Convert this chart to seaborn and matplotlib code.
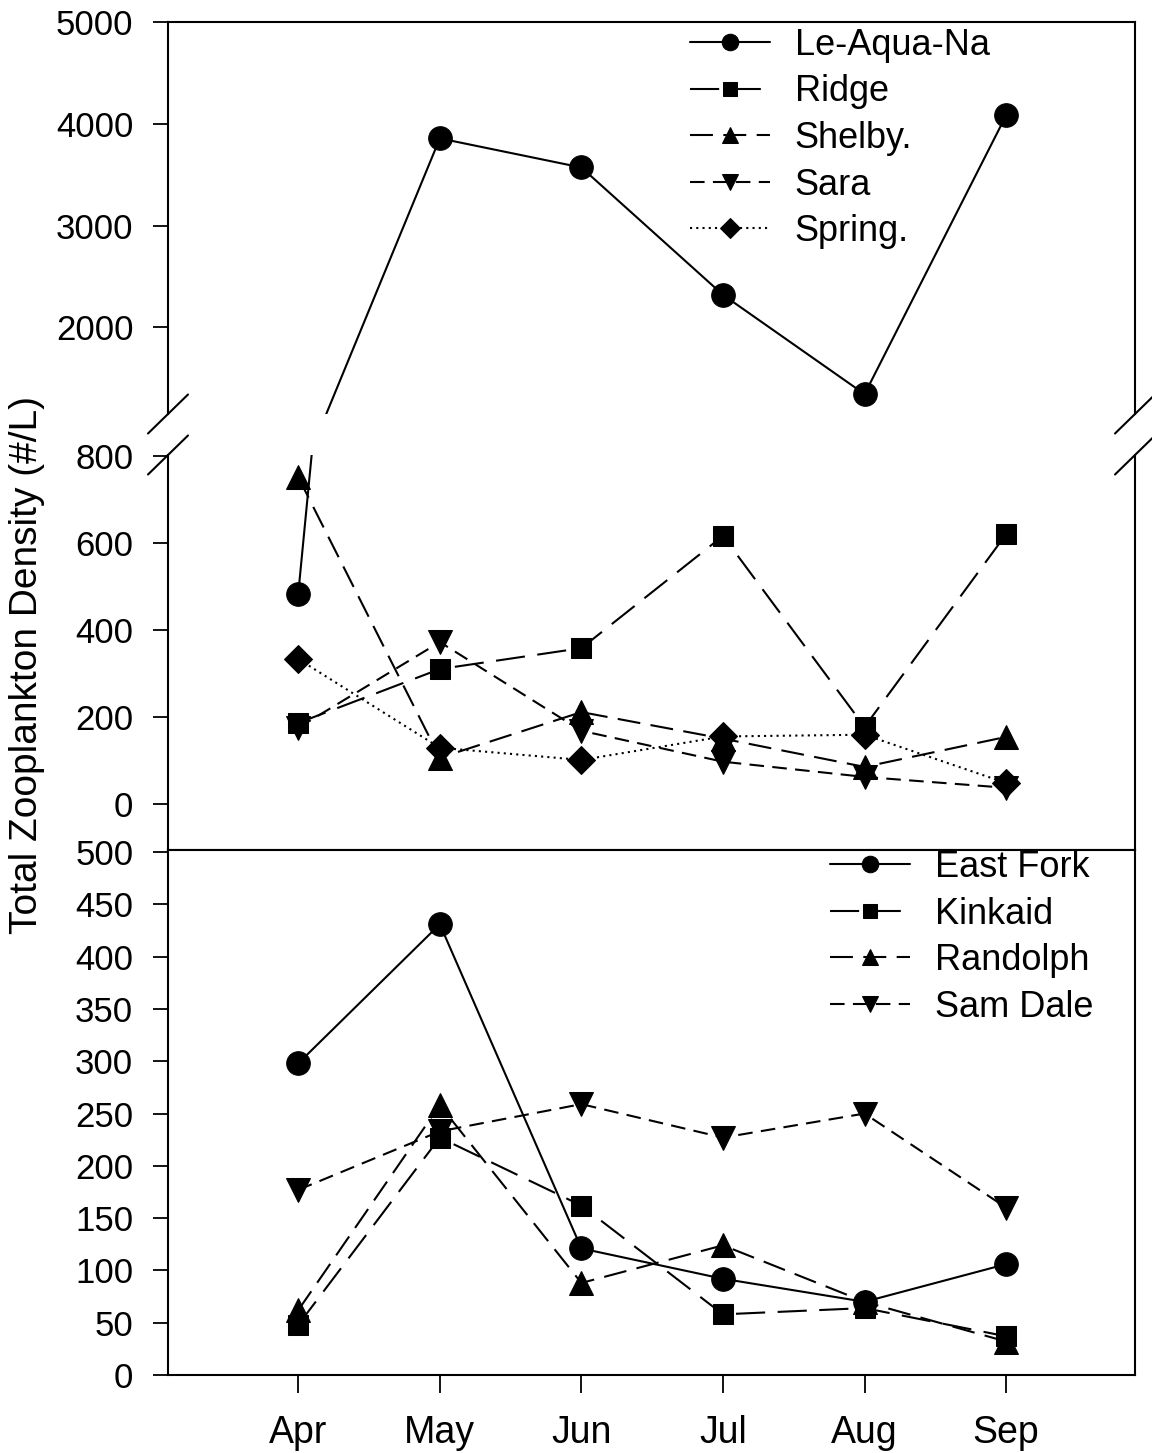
import numpy as np
import matplotlib
matplotlib.use("Agg")
import matplotlib.pyplot as plt
from matplotlib.lines import Line2D
import seaborn as sns

# ---- data -------------------------------------------------------------
months = ["Apr", "May", "Jun", "Jul", "Aug", "Sep"]

# upper panel lakes (broken y axis)
le_aqua_na = [483, 3857, 3571, 2320, 1345, 4084]
ridge = [186, 310, 358, 616, 177, 620]
shelby = [751, 106, 211, 150, 85, 154]
sara = [175, 372, 168, 97, 62, 37]
spring = [333, 129, 101, 155, 159, 48]

# lower panel lakes
east_fork = [298, 431, 121, 92, 70, 106]
kinkaid = [48, 227, 162, 58, 64, 37]
randolph = [62, 258, 88, 124, 70, 32]
sam_dale = [177, 233, 259, 227, 250, 160]

top_ticks = [2000, 3000, 4000, 5000]
mid_ticks = [0, 200, 400, 600, 800]
bot_ticks = list(range(0, 501, 50))

# ---- style ------------------------------------------------------------
sns.set_theme(style="ticks")
plt.rcParams["font.family"] = ["Liberation Sans", "DejaVu Sans"]
plt.rcParams["axes.linewidth"] = 1.5
plt.rcParams["axes.edgecolor"] = "black"
plt.rcParams["text.color"] = "black"
plt.rcParams["axes.labelcolor"] = "black"
plt.rcParams["xtick.color"] = "black"
plt.rcParams["ytick.color"] = "black"

LONG = (0, (14, 6))
MED = (0, (11, 5))
SHORT = (0, (7, 4))
DOT = (0, (1, 2))

upper = [
    ("Le-Aqua-Na", le_aqua_na, "o", 17, "-"),
    ("Ridge", ridge, "s", 15, LONG),
    ("Shelby.", shelby, "^", 17, MED),
    ("Sara", sara, "v", 17, SHORT),
    ("Spring.", spring, "D", 14, DOT),
]
lower = [
    ("East Fork", east_fork, "o", 17, "-"),
    ("Kinkaid", kinkaid, "s", 15, LONG),
    ("Randolph", randolph, "^", 17, MED),
    ("Sam Dale", sam_dale, "v", 17, SHORT),
]

W, H = 1152, 1453
fig = plt.figure(figsize=(W / 100, H / 100), dpi=100)


def box(x0, y0, x1, y1):
    return [x0 / W, 1 - y1 / H, (x1 - x0) / W, (y1 - y0) / H]


ax_top = fig.add_axes(box(168, 22, 1135, 414))
ax_mid = fig.add_axes(box(168, 455, 1135, 850))
ax_bot = fig.add_axes(box(168, 850, 1135, 1375))

x = np.arange(len(months))


def draw(ax, series, with_labels):
    for name, vals, mk, ms, ls in series:
        sns.lineplot(
            x=x, y=vals, ax=ax, color="black", linewidth=1.5,
            linestyle=ls, marker=mk, markersize=ms,
            markeredgecolor="black", markerfacecolor="black",
            label=name if with_labels else None, legend=False,
        )


draw(ax_top, upper, True)
draw(ax_mid, upper, False)
draw(ax_bot, lower, True)

for ax in (ax_top, ax_mid, ax_bot):
    ax.set_xlim(-0.92, 5.91)
    ax.set_xlabel("")
    ax.set_ylabel("")
    ax.tick_params(axis="y", direction="out", length=11, width=1.3,
                   pad=14, labelsize=25, colors="black")

ax_top.set_ylim(1150, 5000)
ax_top.set_yticks(top_ticks)
ax_mid.set_ylim(-106, 802)
ax_mid.set_yticks(mid_ticks)
ax_bot.set_ylim(0, 502)
ax_bot.set_yticks(bot_ticks)

for ax in (ax_top, ax_mid):
    ax.set_xticks([])
ax_top.spines["bottom"].set_visible(False)
ax_mid.spines["top"].set_visible(False)

ax_bot.set_xticks(x)
ax_bot.set_xticklabels(months)
ax_bot.tick_params(axis="x", direction="out", length=13, width=1.3,
                   pad=16, labelsize=27, colors="black")

# break marks on both sides of the y axis gap
for px in (168, 1135):
    for py in (414, 455):
        fig.add_artist(Line2D([(px - 20) / W, (px + 20) / W],
                              [1 - (py + 19.5) / H, 1 - (py - 19.5) / H],
                              transform=fig.transFigure, color="black",
                              linewidth=1.5))

leg_kw = dict(loc="upper left", frameon=False, fontsize=26,
              handlelength=2.2, handletextpad=0.7, labelspacing=0.32,
              borderpad=0, borderaxespad=0, markerscale=0.7)
ax_top.legend(bbox_to_anchor=(0.54, 0.985), **leg_kw)
ax_bot.legend(bbox_to_anchor=(0.685, 1.0), **leg_kw)

fig.text(27 / W, 1 - 665 / H, "Total Zooplankton Density (#/L)",
         rotation=90, va="center", ha="center", fontsize=28)

fig.savefig("out.png", dpi=100)
